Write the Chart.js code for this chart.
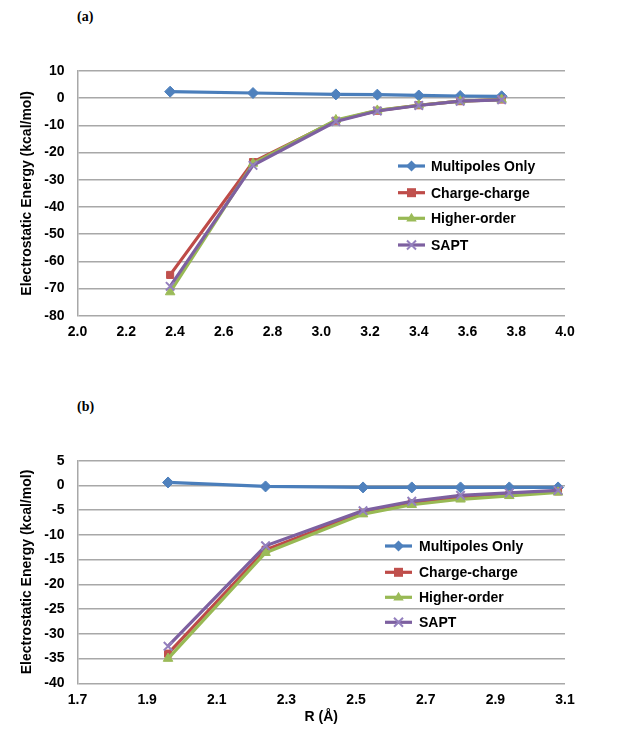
<!DOCTYPE html>
<html><head><meta charset="utf-8">
<script src="https://cdn.jsdelivr.net/npm/chart.js@4/dist/chart.umd.min.js"></script>
<style>
html,body{margin:0;padding:0;background:#fff;width:624px;height:740px;overflow:hidden;}
.wrap{position:absolute;left:0;width:624px;height:360px;}
.lab{position:absolute;font:bold 14px 'Liberation Serif','Times New Roman',serif;color:#000;}
</style></head><body>
<div class="lab" style="left:77px;top:9px">(a)</div>
<div class="lab" style="left:77px;top:399px">(b)</div>
<div class="wrap" style="top:0"><canvas id="ca" width="624" height="360"></canvas></div>
<div class="wrap" style="top:380px"><canvas id="cb" width="624" height="360"></canvas></div>
<script>
// ---- data ----
const seriesNames = ['Multipoles Only','Charge-charge','Higher-order','SAPT'];
// panel (a)
const rA = [2.38, 2.72, 3.06, 3.23, 3.40, 3.57, 3.74];
const multipolesA = [2.4, 1.9, 1.4, 1.3, 1.0, 0.8, 0.7];
const chargeA     = [-65.0, -23.5, -8.3, -4.6, -2.6, -1.1, -0.5];
const higherA     = [-71.3, -24.0, -8.0, -4.5, -2.6, -1.1, -0.5];
const saptA       = [-69.2, -24.7, -8.6, -4.7, -2.7, -1.1, -0.6];
const xTicksA = [2.0, 2.2, 2.4, 2.6, 2.8, 3.0, 3.2, 3.4, 3.6, 3.8, 4.0];
// panel (b)
const rB = [1.96, 2.24, 2.52, 2.66, 2.80, 2.94, 3.08];
const multipolesB = [0.6, -0.2, -0.4, -0.4, -0.4, -0.4, -0.4];
const chargeB     = [-34.0, -13.0, -5.5, -3.6, -2.5, -1.9, -1.2];
const higherB     = [-35.0, -13.6, -5.8, -3.9, -2.8, -2.1, -1.4];
const saptB       = [-32.5, -12.2, -5.1, -3.2, -2.0, -1.5, -1.0];
const xTicksB = [1.7, 1.9, 2.1, 2.3, 2.5, 2.7, 2.9, 3.1];

// ---- styles ----
const FONT = "'Liberation Sans', Arial, sans-serif";
const styles = [
  {line:'#4A7EBB', fill:'#4F81BD', ps:'rectRot', r:5.5, bw:1, order:3},
  {line:'#BE4B48', fill:'#C0504D', ps:'rect', r:5, bw:1, order:2},
  {line:'#98B954', fill:'#9BBB59', ps:'triangle', r:5.5, bw:1, order:1},
  {line:'#7D60A0', fill:'#9480BE', ps:'crossRot', r:6, bw:2, order:0}
];
const GRID = '#A8A8A8';

function toPts(xs, ys){ return xs.map((x,i)=>({x:x, y:ys[i]})); }

function drawMarker(ctx, st, x, y){
  ctx.save();
  ctx.fillStyle = st.fill; ctx.strokeStyle = st.fill; ctx.lineWidth = st.bw;
  const r = st.r;
  ctx.beginPath();
  if (st.ps === 'rectRot'){ ctx.moveTo(x, y-r); ctx.lineTo(x+r, y); ctx.lineTo(x, y+r); ctx.lineTo(x-r, y); ctx.closePath(); ctx.fill(); }
  else if (st.ps === 'rect'){ const s=r*0.9; ctx.rect(x-s, y-s, 2*s, 2*s); ctx.fill(); }
  else if (st.ps === 'triangle'){ ctx.moveTo(x, y-r); ctx.lineTo(x+r*0.95, y+r*0.6); ctx.lineTo(x-r*0.95, y+r*0.6); ctx.closePath(); ctx.fill(); }
  else { const s=r*0.75; ctx.moveTo(x-s,y-s); ctx.lineTo(x+s,y+s); ctx.moveTo(x+s,y-s); ctx.lineTo(x-s,y+s); ctx.stroke(); }
  ctx.restore();
}

const excelLegend = {
  id: 'excelLegend',
  afterDatasetsDraw(chart, args, o){
    const ctx = chart.ctx;
    ctx.save();
    chart.data.datasets.forEach((ds, i) => {
      const st = styles[i];
      const y = o.ys[i];
      ctx.strokeStyle = st.line; ctx.lineWidth = 3.2; ctx.lineCap = 'butt';
      ctx.beginPath(); ctx.moveTo(o.x0, y); ctx.lineTo(o.x1, y); ctx.stroke();
      drawMarker(ctx, st, (o.x0+o.x1)/2, y);
      ctx.fillStyle = '#000'; ctx.font = 'bold 14px ' + FONT; ctx.textBaseline = 'middle'; ctx.textAlign = 'left';
      ctx.fillText(ds.label, o.tx, y + 1);
    });
    ctx.restore();
  }
};

function makeDatasets(xs, seriesList){
  return seriesList.map((vals, i) => ({
    label: seriesNames[i],
    data: toPts(xs, vals),
    borderColor: styles[i].line,
    backgroundColor: styles[i].fill,
    borderWidth: 3.2,
    pointStyle: styles[i].ps,
    pointRadius: styles[i].r,
    pointBorderWidth: styles[i].bw,
    pointBackgroundColor: styles[i].fill,
    pointBorderColor: styles[i].fill,
    tension: 0,
    order: styles[i].order
  }));
}

function makeChart(id, cfg){
  const tickFont = {family: FONT, size: 14, weight: 'bold'};
  return new Chart(document.getElementById(id), {
    type: 'line',
    data: {datasets: makeDatasets(cfg.xs, cfg.series)},
    options: {
      responsive: false, animation: false, devicePixelRatio: 1,
      layout: {padding: {top: cfg.padTop, right: cfg.padRight, bottom: 0, left: 0}},
      plugins: {legend: {display: false}, tooltip: {enabled: false}, excelLegend: cfg.legend},
      scales: {
        x: {
          type: 'linear', min: cfg.xMin, max: cfg.xMax,
          afterBuildTicks: s => { s.ticks = cfg.xTicks.map(v => ({value: v})); },
          afterFit: s => { s.height = cfg.xHeight; },
          ticks: {callback: v => Number(v).toFixed(1), font: tickFont, color: '#000', padding: 8, maxRotation: 0, autoSkip: false},
          grid: {display: false, drawTicks: false},
          border: {display: false},
          title: cfg.xTitle ? {display: true, text: cfg.xTitle, font: tickFont, color: '#000', padding: {top: 0, bottom: 14}} : {display: false}
        },
        y: {
          min: cfg.yMin, max: cfg.yMax,
          afterFit: s => { s.width = 77.5; },
          ticks: {stepSize: cfg.yStep, font: tickFont, color: '#000', padding: 13},
          grid: {color: GRID, lineWidth: 1.5, drawTicks: false},
          border: {display: true, color: GRID, width: 1.5},
          title: {display: true, text: 'Electrostatic Energy (kcal/mol)', font: tickFont, color: '#000', padding: {top: 18.3, bottom: 0}}
        }
      }
    },
    plugins: [excelLegend]
  });
}

makeChart('ca', {
  xs: rA, series: [multipolesA, chargeA, higherA, saptA],
  xMin: 2.0, xMax: 4.0, xTicks: xTicksA, yMin: -80, yMax: 10, yStep: 10,
  padTop: 71, padRight: 59, xHeight: 44.3,
  legend: {x0: 398, x1: 425, tx: 431, ys: [166, 192.7, 218.3, 245]}
});
makeChart('cb', {
  xs: rB, series: [multipolesB, chargeB, higherB, saptB],
  xMin: 1.7, xMax: 3.1, xTicks: xTicksB, yMin: -40, yMax: 5, yStep: 5,
  padTop: 80.7, padRight: 59, xHeight: 56.7, xTitle: 'R (Å)',
  legend: {x0: 385, x1: 412, tx: 419, ys: [166, 192.3, 217.3, 242.3]}
});
</script>
</body></html>
